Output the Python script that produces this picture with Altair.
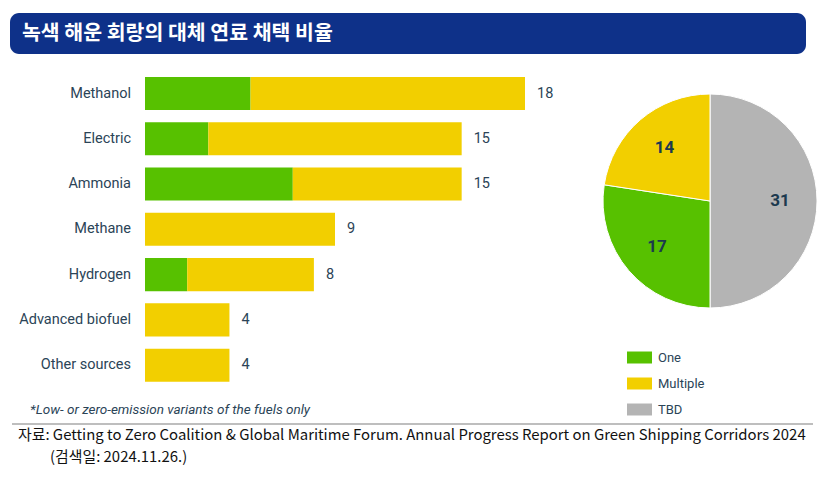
import altair as alt
import pandas as pd

# ---- data ----
fuels = ["Methanol", "Electric", "Ammonia", "Methane", "Hydrogen", "Advanced biofuel", "Other sources"]
one_counts = [5, 3, 7, 0, 2, 0, 0]
multiple_counts = [13, 12, 8, 9, 6, 4, 4]

pie_types = ["TBD", "One", "Multiple"]
pie_counts = [31, 17, 14]

legend_types = ["One", "Multiple", "TBD"]
legend_colors = ["#57C100", "#F2CF00", "#B4B4B4"]

title_text = "녹색 해운 회랑의 대체 연료 채택 비율"
footnote_text = "*Low- or zero-emission variants of the fuels only"
source_line1 = "자료: Getting to Zero Coalition & Global Maritime Forum. Annual Progress Report on Green Shipping Corridors 2024"
source_line2 = "(검색일: 2024.11.26.)"

# ---- tables ----
rows = []
for f, o, m in zip(fuels, one_counts, multiple_counts):
    rows.append({"fuel": f, "type": "One", "value": o, "ord": 0})
    rows.append({"fuel": f, "type": "Multiple", "value": m, "ord": 1})
bar_df = pd.DataFrame(rows)
pie_df = pd.DataFrame({"type": pie_types, "count": pie_counts, "ord": list(range(len(pie_types)))})

TEXT_COLOR = "#2B4457"
LABEL_FONT = "Roboto"

color_scale = alt.Scale(domain=legend_types, range=legend_colors)

x_scale = alt.Scale(domain=[0, 18], range=[137, 517], nice=False, zero=True)
y_scale = alt.Scale(domain=fuels, range=[62.9, 379.8], paddingInner=0.27, paddingOuter=0.135)

legend = alt.Legend(
    title=None, orient="none", legendX=619, legendY=337, padding=0,
    symbolType="M-1,-0.48H1V0.48H-1Z", symbolSize=625, symbolStrokeWidth=0,
    labelFont=LABEL_FONT, labelFontSize=13, labelColor=TEXT_COLOR, labelOffset=6,
    rowPadding=6, direction="vertical",
)

# title bar
title_bar = alt.Chart(pd.DataFrame({"t": [title_text]})).mark_rect(
    color="#0E3189", cornerRadius=9
).encode(x=alt.value(2), x2=alt.value(798), y=alt.value(5), y2=alt.value(46))

title = alt.Chart(pd.DataFrame({"t": [title_text]})).mark_text(
    align="left", baseline="middle", font="Noto Sans CJK KR", fontSize=20.5,
    fontWeight="bold", color="white"
).encode(x=alt.value(14), y=alt.value(26), text="t:N")

bars = alt.Chart(bar_df).mark_bar().encode(
    x=alt.X("value:Q", stack="zero", scale=x_scale, axis=None),
    y=alt.Y("fuel:N", sort=fuels, scale=y_scale, axis=None),
    color=alt.Color("type:N", scale=color_scale, legend=legend),
    order=alt.Order("ord:Q"),
)

cat_labels = alt.Chart(pd.DataFrame({"fuel": fuels})).mark_text(
    align="right", baseline="middle", font=LABEL_FONT, fontSize=14.5, color=TEXT_COLOR
).encode(
    y=alt.Y("fuel:N", sort=fuels, scale=y_scale, axis=None),
    x=alt.value(123),
    text="fuel:N",
)

val_labels = alt.Chart(bar_df).transform_aggregate(
    total="sum(value)", groupby=["fuel"]
).mark_text(
    align="left", baseline="middle", dx=12, font=LABEL_FONT, fontSize=14.5, color=TEXT_COLOR
).encode(
    x=alt.X("total:Q", scale=x_scale, axis=None),
    y=alt.Y("fuel:N", sort=fuels, scale=y_scale, axis=None),
    text="total:Q",
)

pie = alt.Chart(pie_df).mark_arc(radius=107, stroke="white", strokeWidth=1).encode(
    theta=alt.Theta("count:Q", stack=True),
    color=alt.Color("type:N", scale=color_scale, legend=legend),
    order=alt.Order("ord:Q"),
    x=alt.value(702),
    y=alt.value(193),
)

pie_labels = alt.Chart(pie_df).mark_text(
    radius=70, font=LABEL_FONT, fontSize=17, fontWeight="bold", color="#1C3A4F"
).encode(
    theta=alt.Theta("count:Q", stack=True),
    order=alt.Order("ord:Q"),
    text="count:Q",
    x=alt.value(702),
    y=alt.value(193),
)

footnote = alt.Chart(pd.DataFrame({"t": [footnote_text]})).mark_text(
    align="left", baseline="middle", font=LABEL_FONT, fontSize=13.5, fontStyle="italic",
    color=TEXT_COLOR
).encode(x=alt.value(22), y=alt.value(402), text="t:N")

sep = alt.Chart(pd.DataFrame({"t": [0]})).mark_rule(color="#A8A8A8", strokeWidth=1.5).encode(
    x=alt.value(4), x2=alt.value(805), y=alt.value(416)
)

src1 = alt.Chart(pd.DataFrame({"t": [source_line1]})).mark_text(
    align="left", baseline="middle", font="Noto Sans CJK KR",
    fontSize=14.9, color="#111111"
).encode(x=alt.value(10), y=alt.value(428), text="t:N")

src2 = alt.Chart(pd.DataFrame({"t": [source_line2]})).mark_text(
    align="left", baseline="middle", font="Noto Sans CJK KR",
    fontSize=14.9, color="#111111"
).encode(x=alt.value(42), y=alt.value(450), text="t:N")

chart = alt.layer(
    title_bar, title, bars, cat_labels, val_labels, pie, pie_labels, footnote, sep, src1, src2
).properties(
    width=810, height=477, padding=0, autosize="none", background="white"
).configure_view(stroke=None)

chart.save("out.html", embed_options={"renderer": "svg", "actions": False})
